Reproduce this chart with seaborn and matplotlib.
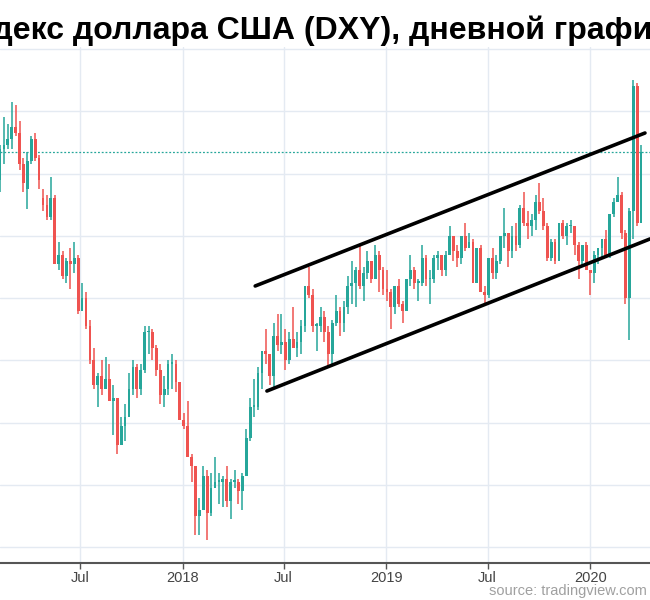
import pandas as pd
import matplotlib
matplotlib.use("Agg")
import matplotlib.pyplot as plt
import matplotlib.dates as mdates
import seaborn as sns

# Weekly candles (week starting Mondays, Feb 2017 - Mar 2020)
week_start = "2017-02-06"

opens = [
    # 2017
    99.8, 100.8, 100.9, 101.1, 101.5, 101.3, 100.3, 99.5, 100.4, 101.1, 100.5, 99.2,
    99.0, 98.6, 99.2, 97.1, 97.4, 96.7, 97.2, 97.1, 97.3, 95.6, 96.0, 95.1,
    94.0, 93.2, 93.5, 93.1, 93.4, 92.7, 92.8, 91.3, 91.9, 92.2, 93.1, 93.8,
    93.1, 93.7, 94.9, 94.9, 94.4, 93.7, 92.9, 93.1, 93.9, 93.9, 93.3,
    # 2018
    92.1, 91.9, 90.9, 90.6, 89.0, 89.2, 90.3, 89.1, 89.9, 90.1, 90.1, 90.2,
    89.5, 90.1, 90.1, 89.8, 90.3, 91.5, 92.5, 92.5, 93.6, 94.3, 94.2, 93.5,
    94.8, 94.5, 94.6, 94.0, 94.7, 94.4, 94.6, 95.1, 96.4, 96.1, 95.1, 95.1,
    95.4, 94.9, 94.2, 95.2, 95.6, 95.2, 95.7, 96.4, 96.5, 96.9, 96.4, 96.8,
    97.2, 96.6, 97.4, 96.9, 96.3,
    # 2019
    96.2, 95.7, 96.4, 95.8, 95.6, 96.6, 96.9, 96.5, 96.5, 97.3, 96.6, 96.6,
    97.3, 97.4, 96.9, 97.4, 98.0, 97.5, 97.3, 98.0, 97.6, 97.8, 96.5, 97.6,
    96.2, 96.1, 97.3, 96.8, 97.2, 98.0, 98.1, 97.5, 98.0, 97.7, 98.9, 98.4,
    98.3, 98.5, 99.1, 98.8, 98.3, 97.3, 97.8, 97.2, 98.4, 98.0, 98.3, 98.3,
    97.7, 97.2, 97.7, 96.9,
    # 2020
    96.8, 97.4, 97.6, 97.9, 97.4, 98.7, 99.1, 99.3, 98.1, 96.0, 98.8, 102.8,
    98.4,
]
highs = [
    # 2017
    100.9, 101.8, 101.6, 102.3, 102.2, 101.7, 100.5, 100.7, 101.2, 101.3, 100.6, 99.5,
    99.3, 99.9, 99.3, 97.8, 97.5, 97.3, 97.6, 97.8, 97.4, 96.5, 96.2, 95.3,
    94.4, 93.6, 94.0, 94.1, 93.9, 93.2, 92.8, 92.2, 92.6, 93.6, 94.0, 93.9,
    93.9, 95.1, 95.1, 95.0, 94.5, 93.9, 93.5, 94.0, 94.2, 94.0, 93.3,
    # 2018
    92.3, 92.7, 91.0, 90.6, 89.6, 90.6, 90.5, 90.4, 90.9, 90.4, 90.3, 90.6,
    90.2, 90.5, 90.2, 90.4, 91.8, 92.8, 93.4, 93.8, 94.3, 95.0, 94.2, 95.2,
    95.5, 95.5, 95.0, 94.9, 95.7, 94.9, 95.3, 96.4, 97.0, 96.3, 95.2, 95.7,
    95.6, 95.1, 95.3, 96.1, 95.7, 95.9, 96.7, 97.2, 97.0, 97.7, 97.0, 97.5,
    97.2, 97.7, 97.5, 97.0, 96.9,
    # 2019
    96.3, 96.4, 96.6, 95.9, 96.6, 97.4, 97.0, 96.6, 97.7, 97.4, 96.9, 97.4,
    97.5, 97.4, 97.5, 98.3, 98.0, 97.7, 98.0, 98.4, 98.1, 97.9, 97.6, 97.7,
    96.4, 97.3, 97.6, 97.4, 98.0, 98.9, 98.1, 98.3, 98.4, 99.0, 99.4, 98.8,
    98.7, 99.3, 99.7, 99.2, 98.4, 97.9, 97.9, 98.4, 98.5, 98.4, 98.5, 98.3,
    97.8, 97.7, 97.8, 96.9,
    # 2020
    97.5, 97.6, 97.9, 98.2, 98.7, 99.2, 99.9, 99.4, 98.2, 98.9, 103.0, 102.9,
    100.9,
]
lows = [
    # 2017
    99.4, 100.3, 100.8, 100.8, 101.2, 100.1, 99.4, 98.85, 100.3, 100.4, 99.5, 98.8,
    98.5, 98.5, 97.1, 96.9, 96.6, 96.5, 96.3, 96.8, 95.5, 95.6, 95.0, 93.9,
    93.1, 92.5, 92.9, 93.1, 92.7, 91.6, 91.0, 91.3, 91.4, 92.2, 92.9, 92.8,
    92.9, 93.6, 94.2, 94.0, 93.5, 92.6, 92.5, 92.9, 93.1, 93.0, 92.1,
    # 2018
    91.8, 90.9, 90.1, 88.4, 88.4, 89.2, 88.25, 89.0, 89.9, 89.4, 89.3, 89.3,
    88.9, 89.9, 89.4, 89.2, 90.3, 91.4, 92.2, 92.4, 93.1, 93.9, 93.2, 93.1,
    94.3, 94.2, 93.7, 93.9, 94.4, 94.1, 94.2, 94.9, 96.0, 94.9, 94.3, 94.9,
    94.6, 93.8, 93.9, 95.1, 94.8, 94.9, 95.5, 95.8, 95.7, 96.3, 95.9, 96.6,
    96.5, 96.6, 96.2, 96.1, 95.9,
    # 2019
    95.0, 95.5, 95.7, 95.2, 95.6, 96.4, 96.3, 95.9, 96.4, 96.4, 95.8, 96.5,
    96.9, 96.7, 96.7, 97.4, 97.2, 97.0, 97.1, 97.5, 97.6, 96.5, 96.5, 96.2,
    95.8, 96.0, 96.6, 96.6, 97.1, 97.6, 97.0, 97.3, 97.5, 97.6, 98.3, 97.9,
    98.0, 98.2, 98.7, 98.2, 97.2, 97.2, 97.1, 97.2, 97.9, 97.7, 98.1, 97.4,
    96.6, 97.0, 96.9, 96.1,
    # 2020
    96.5, 97.1, 97.3, 97.4, 97.3, 98.6, 99.1, 97.9, 95.8, 94.65, 97.9, 98.3,
    98.4,
]
closes = [
    # 2017
    100.8, 100.9, 101.1, 101.5, 101.3, 100.3, 99.7, 100.4, 101.1, 100.5, 99.8, 99.0,
    98.6, 99.2, 97.1, 97.4, 96.7, 97.2, 97.1, 97.3, 95.6, 96.0, 95.1, 94.0,
    93.2, 93.5, 93.1, 93.4, 92.7, 92.8, 91.3, 91.9, 92.2, 93.1, 93.8, 93.1,
    93.7, 94.9, 94.9, 94.4, 93.7, 92.9, 93.1, 93.9, 93.9, 93.3, 92.1,
    # 2018
    91.9, 90.9, 90.6, 89.0, 89.2, 90.3, 89.1, 89.9, 90.1, 90.1, 90.2, 89.5,
    90.1, 90.1, 89.8, 90.3, 91.5, 92.5, 92.5, 93.6, 94.3, 94.2, 93.5, 94.8,
    94.5, 94.6, 94.0, 94.7, 94.4, 94.6, 95.1, 96.4, 96.1, 95.1, 95.1, 95.4,
    94.9, 94.2, 95.2, 95.6, 95.2, 95.7, 96.4, 96.5, 96.9, 96.4, 96.8, 97.2,
    96.6, 97.4, 96.9, 96.3, 96.2,
    # 2019
    95.7, 96.4, 95.8, 95.6, 96.6, 96.9, 96.5, 96.5, 97.3, 96.6, 96.6, 97.3,
    97.4, 96.9, 97.4, 98.0, 97.5, 97.3, 98.0, 97.6, 97.8, 96.5, 97.6, 96.2,
    96.1, 97.3, 96.8, 97.2, 98.0, 98.1, 97.5, 98.0, 97.7, 98.9, 98.4, 98.3,
    98.5, 99.1, 98.8, 98.3, 97.3, 97.8, 97.2, 98.4, 98.0, 98.3, 98.3, 97.7,
    97.2, 97.7, 96.9, 96.8,
    # 2020
    97.4, 97.6, 97.9, 97.4, 98.7, 99.1, 99.3, 98.1, 96.0, 98.8, 102.8, 98.4,
    100.7,
]

last_price = 100.68

# channel drawn on the chart
upper_dates = ["2018-05-11", "2020-04-08"]
upper_vals = [96.39, 101.30]
lower_dates = ["2018-06-01", "2020-04-17"]
lower_vals = [93.02, 97.90]

tick_dates = ["2017-07-01", "2018-01-01", "2018-07-01", "2019-01-01", "2019-07-01", "2020-01-01"]
tick_labels = ["Jul", "2018", "Jul", "2019", "Jul", "2020"]
grid_levels = [88, 90, 92, 94, 96, 98, 100, 102, 104]

up_col = "#26a69a"
down_col = "#ef5350"

sns.set_theme(style="white")
plt.rcParams["font.family"] = ["Liberation Sans", "DejaVu Sans"]

fig = plt.figure(figsize=(6.5, 6.0), dpi=100)
ax = fig.add_axes([0, 1 - 563 / 600, 1, 516 / 600])

df = pd.DataFrame({"open": opens, "high": highs, "low": lows, "close": closes})
df["date"] = pd.date_range(week_start, periods=len(df), freq="7D") + pd.Timedelta(days=2)
df["x"] = mdates.date2num(df["date"])
df["color"] = [up_col if c >= o else down_col for o, c in zip(df["open"], df["close"])]
df["bottom"] = df[["open", "close"]].min(axis=1)
df["height"] = (df["close"] - df["open"]).abs().clip(lower=0.06)

# wicks then bodies
ax.vlines(df["x"], df["low"], df["high"], colors=df["color"], lw=1.1, zorder=3)
ax.bar(df["x"], df["height"], bottom=df["bottom"], width=5.0,
       color=df["color"], linewidth=0, zorder=3)

ax.axhline(last_price, color=up_col, lw=0.9, ls=(0, (1.5, 1.5)), zorder=2)

for dts, vals in [(upper_dates, upper_vals), (lower_dates, lower_vals)]:
    sns.lineplot(x=mdates.date2num(pd.to_datetime(dts)), y=vals, ax=ax,
                 color="black", lw=2.6, solid_capstyle="round", zorder=4)

ax.set_xlim(mdates.date2num(pd.Timestamp("2017-02-08")), mdates.date2num(pd.Timestamp("2020-04-17")))
ax.set_ylim(87.5, 104.06)

ax.set_yticks(grid_levels)
ax.set_yticklabels([])
ax.set_xticks(mdates.date2num(pd.to_datetime(tick_dates)))
ax.set_xticklabels(tick_labels)
ax.grid(True, color="#e4eaf2", lw=1, zorder=0)
ax.set_axisbelow(True)
ax.tick_params(axis="y", length=0)
ax.tick_params(axis="x", length=4, width=1, color="#555555", labelsize=10.5,
               labelcolor="#444444", pad=2, bottom=True)
for side in ["top", "left", "right"]:
    ax.spines[side].set_visible(False)
ax.spines["bottom"].set_color("#555555")
ax.spines["bottom"].set_linewidth(1.5)
ax.set_xlabel("")
ax.set_ylabel("")

fig.text(-50 / 650, 1 - 39 / 600, "Индекс доллара США (DXY), дневной график",
         fontsize=23, fontweight="bold", color="black", ha="left", va="baseline")
fig.text(647 / 650, 1 - 591 / 600, "source: tradingview.com", ha="right", va="center",
         fontsize=10.5, color="#a0a0a0")

fig.savefig("out.png", dpi=100)
plt.close(fig)
